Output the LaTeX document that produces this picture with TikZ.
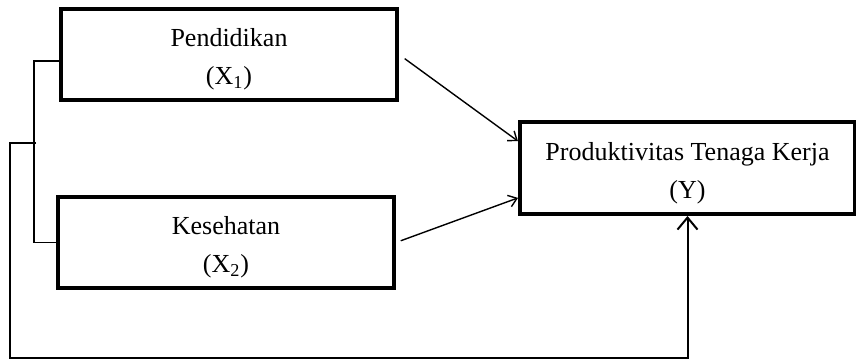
\documentclass[tikz,border=0pt]{standalone}
\usepackage{fontspec}
\setmainfont{Liberation Serif}
\usetikzlibrary{arrows.meta,calc}
\tikzstyle{varbox}=[draw,line width=2pt,minimum width=168pt,minimum height=45.5pt,align=center,inner sep=0pt,text height=33pt,font=\fontsize{13}{19}\selectfont]
\tikzstyle{link}=[line width=0.7pt]
\tikzstyle{influence}=[link,-{Straight Barb[length=4pt,width=6pt]}]

\begin{document}
\begin{tikzpicture}[x=0.5pt,y=-0.5pt]

  \useasboundingbox (0,0) rectangle (856,360);

  \node[varbox] (x1) at (229,54.5) {Pendidikan\\(X\textsubscript{1})};
  \node[varbox] (x2) at (226,242.5) {Kesehatan\\(X\textsubscript{2})};
  \node[varbox,minimum width=167.5pt,minimum height=46pt] (y) at (687.5,168) {Produktivitas Tenaga Kerja\\(Y)};

  \foreach \source/\dest/\gap in {x1/171/3.5pt, x2/190/2.5pt}
     \draw[influence, shorten <=\gap] (\source.east) -- (y.\dest);

  % bracket joining X1 and X2
  \draw[link] ([yshift=-3.25pt]x1.west) -- ++(-25,0) |- (x2.west);

  \coordinate (brk) at (36,143);
  \draw[link, line width=1pt, -{Straight Barb[length=6pt,width=10pt]}] (brk) -- ++(-26,0) -- ++(0,215) -| (y.south);

\end{tikzpicture}
\end{document}
